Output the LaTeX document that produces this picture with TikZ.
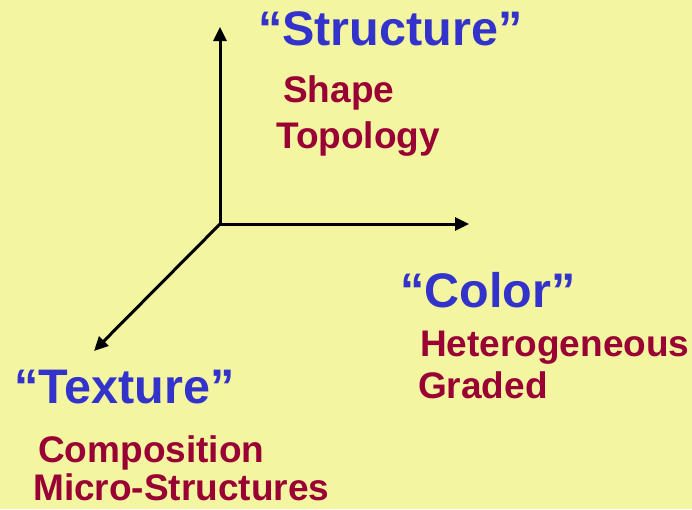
\documentclass[tikz,border=0pt]{standalone}
\usepackage{fontspec}
\setmainfont{Liberation Sans}
\usepackage{xcolor}
\usetikzlibrary{arrows.meta}
\definecolor{bgyellow}{RGB}{243,245,161}
\definecolor{axisblue}{RGB}{51,51,204}
\definecolor{itemred}{RGB}{153,0,51}
\tikzset{
  axis/.style  = {line width=3pt, draw=black,
                  -{Triangle[length=14pt,width=13pt]}},
  title/.style = {anchor=base west, inner sep=0pt, text=axisblue,
                  font=\fontsize{48.5}{56}\selectfont\bfseries},
  item/.style  = {anchor=base west, inner sep=0pt, text=itemred,
                  font=\fontsize{37}{44}\selectfont\bfseries},
}

\begin{document}
\begin{tikzpicture}[x=1pt, y=-1pt]
  % page
  \fill[bgyellow] (0,0) rectangle (692,509);
  \useasboundingbox (0,0) rectangle (692,509);

  % axes
  \coordinate (o)  at (220,224);
  \coordinate (up) at (220,27);
  \coordinate (rt) at (469,224);
  \coordinate (dl) at (94,351);
  \draw[axis] (o) -- (up);
  \draw[axis] (o) -- (rt);
  \draw[axis] (o) -- (dl);

  % structure
  \node[title] (structure) at (258,45)  {“Structure”};
  \node[item]  (shape)     at (283,102) {Shape};
  \node[item]  (topology)  at (276,148) {Topology};

  % color
  \node[title] (color)  at (400,307) {“Color”};
  \node[item]  (hetero) at (420,356) {Heterogeneous};
  \node[item]  (graded) at (418,398) {Graded};

  % texture
  \node[title] (texture) at (14,403) {“Texture”};
  \node[item]  (compo)   at (38,462) {Composition};
  \node[item]  (micro)   at (33,500) {Micro-Structures};
\end{tikzpicture}
\end{document}
